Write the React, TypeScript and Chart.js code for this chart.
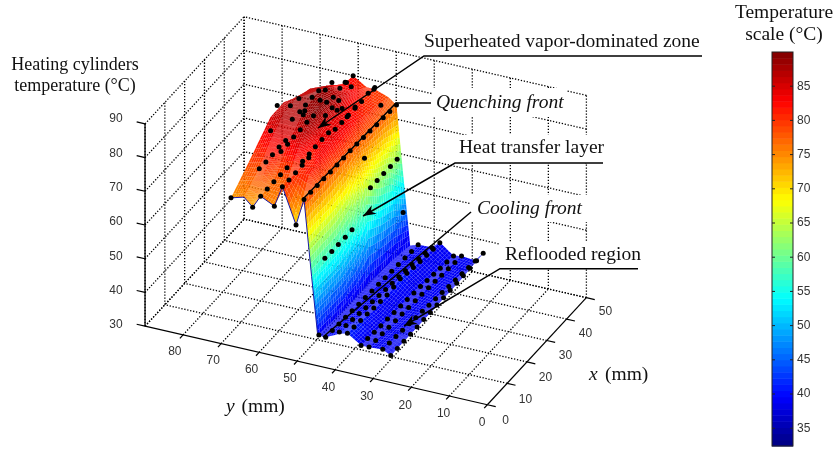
import React, { useEffect, useRef } from "react";
import { Chart, registerables } from "chart.js";
Chart.register(...registerables);

// ---- axis ticks ----
const xTicks = [0, 10, 20, 30, 40, 50];
const yTicks = [0, 10, 20, 30, 40, 50, 60, 70, 80];
const tempTicks = [30, 40, 50, 60, 70, 80, 90];
const colourTicks = [35, 40, 45, 50, 55, 60, 65, 70, 75, 80, 85];
const Y_MAX = 90;
const X_MAX = 50;
const T_MIN = 30;
const T_MAX = 90;
const BAR_MIN = 32.4;
const BAR_MAX = 90;

// ---- surface table: y rows (mm), x columns (mm), temperature (°C) ----
const surfaceX = [0, 6.67, 13.33, 20, 26.67, 33.33, 40, 46.67];
const surfaceY = [67.4, 64, 61.7, 59.6, 56, 53.9, 50.3, 48.2, 46.2, 44.6, 42.5, 38.9, 36.8, 33.2, 31.1, 27.5, 25.4];
const surfaceT = [
  [73.9, 77.5, 81.3, 85.2, 85.3, 82.3, 79.5, 77],
  [75, 78, 83, 87, 87.5, 86, 82, 78.5],
  [72.6, 80, 83, 87, 88, 87, 83.5, 79],
  [76.4, 77, 83, 87, 89, 88, 83, 82.5],
  [74.4, 78, 85, 89.5, 89, 86, 83, 80],
  [80.7, 80.6, 81, 84, 85, 83, 81, 80],
  [70.3, 81, 83, 84, 83, 81, 80, 78.5],
  [78.4, 78.3, 78.1, 78, 77.9, 77.5, 77.2, 76.8],
  [56, 56, 56, 58, 68, 63, 60, 54],
  [39, 38.5, 38, 38, 38, 37.5, 37, 36],
  [39, 38.6, 38.3, 38, 37.7, 37.4, 37, 36.8],
  [41, 40, 39, 39, 38.5, 38, 37.5, 37],
  [41.7, 41, 40, 40, 41, 40, 39.5, 39],
  [39, 38.5, 38, 38, 38, 37, 36.5, 36],
  [39, 38.5, 38, 38, 38, 37.5, 37, 36.4],
  [39.3, 38.8, 38.5, 38, 37.5, 37, 36.5, 36],
  [38, 38, 38, 38, 38, 38, 38.3, 38.7],
];

// ---- measured points: x stations, then one temperature list per y row ----
const stationX = [0, 3.33, 6.67, 10, 13.33, 16.67, 20, 23.33, 26.67, 30, 33.33, 36.67, 40, 43.33, 46.67];
const rowY = [67.4, 61.7, 59.6, 56, 53.9, 50.3, 48.2, 42.5, 38.9, 36.8, 33.2, 31.1, 27.5, 25.4];
const n = null;
const rowT = [
  [73.9, n, n, n, n, n, 81.1, 86.5, n, 82.2, n, n, n, n, n],
  [72.6, 81.9, 81.8, 81.8, 82, 81.8, 86, 90, 86, 86.2, 86, 84.1, 84.2, n, 80],
  [76.4, 76.4, 76.5, 76.4, 76.4, 83.4, 83.4, 83.5, 83.3, 85.8, 83.1, 82.5, 83, 82.6, 82.5],
  [74.4, 88.5, 88.5, n, n, n, n, n, n, n, n, n, n, n, n],
  [80.7, 80.6, 80.6, 80.7, 80.8, 82, 82, 81.9, 80.8, 80.7, 80.7, 80.7, 80.6, 80.9, 80.5],
  [70.3, 87.1, 87.1, n, n, n, n, n, n, n, n, n, n, n, n],
  [78.4, 78.4, 78.3, 78.2, 78.1, 78, 78, 78, 77.9, 77.7, 77.5, 77.3, 77.2, 77, 76.8],
  [39, 38.9, 38.7, 38.6, 38.4, 38.2, 38.1, 37.9, 37.8, 37.6, 37.4, 37.3, 37.1, 36.9, 36.8],
  [41.5, 41.3, 41, 40.6, 40.2, 39.9, 39.6, 39.3, 39, 38.8, 38.5, 38.2, 37.8, 37.4, 36.9],
  [41.7, 41.4, 41.2, 41, 40.7, 40.5, 40.3, 40.6, 40.9, 40.4, 40, 39.7, 39.4, 39.1, 38.9],
  [39, 38.9, 38.7, 38.5, 38.4, 38.2, 38, 37.8, 37.6, 37.4, 37.1, 36.8, 36.5, 36.2, 35.9],
  [39.1, 38.9, 38.8, 38.6, 38.4, 38.3, 38.1, 38, 37.8, 37.6, 37.4, 37.1, 36.9, 36.6, 36.4],
  [39.3, 39.1, 38.9, 38.6, 38.4, 38.1, 37.9, 37.6, 37.4, 37.1, 36.8, 36.6, 36.3, 36.1, 35.9],
  [38, 38, 38, 38, 38, 38.1, 38.1, 38.2, 38.2, 38.3, 38.3, 38.4, 38.5, 38.6, 38.7],
];
// remaining readings as [x, y, T]
const hotPoints = [
  [32.5, 56, 85.1], [38.8, 56, 85.2], [25.8, 56, 84.9], [29.2, 56, 85], [31.7, 56, 82.7],
  [34.2, 56, 81.6], [36.7, 56, 77.6], [40.8, 56, 77.9], [46.2, 53.9, 80.3], [42.8, 50.3, 78.6],
  [30.7, 65.3, 80.5], [33.2, 65.3, 79.2], [21.5, 59.6, 86.9],
];
const wallPoints = [
  [6.3, 46, 57.5], [9.8, 46, 57.3], [13.1, 46, 57.3], [16.6, 46, 57.2], [20, 46, 57.3],
  [29.3, 46, 63.8], [32.7, 46, 63.8], [36, 46, 63.8], [39.4, 46, 63.7], [42.8, 46, 63.7],
  [45.8, 46, 46], [26.3, 46, 74.5], [0, 44.3, 39.2],
];

// ---- projection of the 3-D box onto the 2-D chart scales ----
const project = (x: number, y: number, t: number) => ({
  x: 488 + 2 * x - 3.84 * y,
  y: 408 - 2.18 * x - 0.889 * y - 3.433 * (t - 30),
});

const jet = (t: number, lo = BAR_MIN, hi = BAR_MAX) => {
  const level = Math.min(63, Math.max(0, Math.floor(((t - lo) / (hi - lo)) * 64)));
  const v = (level + 0.5) / 64;
  const c = (a: number) => Math.round(255 * Math.min(1, Math.max(0, a)));
  return `rgb(${c(Math.min(4 * v - 1.5, -4 * v + 4.5))},${c(Math.min(4 * v - 0.5, -4 * v + 3.5))},${c(Math.min(4 * v + 0.5, -4 * v + 2.5))})`;
};

const segment = (a: number[], b: number[]) => [project(a[0], a[1], a[2]), project(b[0], b[1], b[2])];

const gridSegments = () => {
  const s: any[] = [];
  for (const x of xTicks.slice(1)) s.push(segment([x, 0, T_MIN], [x, Y_MAX, T_MIN]));
  for (const y of [...yTicks.slice(1), Y_MAX]) s.push(segment([0, y, T_MIN], [X_MAX, y, T_MIN]));
  for (const y of [...yTicks, Y_MAX]) s.push(segment([X_MAX, y, T_MIN], [X_MAX, y, T_MAX]));
  for (const x of xTicks) s.push(segment([x, Y_MAX, T_MIN], [x, Y_MAX, T_MAX]));
  for (const t of tempTicks) {
    s.push(segment([0, Y_MAX, t], [X_MAX, Y_MAX, t]));
    s.push(segment([X_MAX, 0, t], [X_MAX, Y_MAX, t]));
  }
  return s;
};

const axisSegments = () => {
  const s: any[] = [
    segment([0, 0, T_MIN], [0, Y_MAX, T_MIN]),
    segment([0, 0, T_MIN], [X_MAX, 0, T_MIN]),
    segment([0, Y_MAX, T_MIN], [0, Y_MAX, T_MAX]),
  ];
  for (const y of yTicks) s.push(segment([0, y, T_MIN], [-1.6, y, T_MIN]));
  for (const x of xTicks) s.push(segment([x, 0, T_MIN], [x, -2.2, T_MIN]));
  for (const t of tempTicks) s.push(segment([0, Y_MAX, t], [0, Y_MAX + 2.2, t]));
  return s;
};

const allPoints = () => {
  const pts: any[] = [];
  rowT.forEach((temps, r) =>
    temps.forEach((t, k) => {
      if (t !== null) pts.push(project(stationX[k], rowY[r], t));
    })
  );
  for (const p of [...hotPoints, ...wallPoints]) pts.push(project(p[0], p[1], p[2]));
  return pts;
};

const edgeLine = () =>
  surfaceY.slice(0, 10).map((y, r) => project(surfaceX[0], y, surfaceT[r][0]));

const SERIF = '"Liberation Serif", serif';
const SANS = '"Liberation Sans", sans-serif';

const surfacePlugin = {
  id: "surface",
  beforeDatasetDraw(chart: any, args: any) {
    if (args.index !== 1) return;
    const { ctx, scales } = chart;
    const px = (p: { x: number; y: number }) => [scales.x.getPixelForValue(p.x), scales.y.getPixelForValue(p.y)];
    ctx.save();
    // text boxes hide the grid behind the captions
    ctx.fillStyle = "#fff";
    for (const [x, y, w, h] of [[420, 26, 285, 30], [432, 88, 135, 29], [456, 135, 149, 28], [470, 195, 118, 27], [500, 242, 138, 26]]) {
      ctx.fillRect(x, y, w, h);
    }
    const SUB = 6;
    for (let r = 0; r < surfaceY.length - 1; r++) {
      const subY = surfaceY[r] - surfaceY[r + 1] < 3 ? SUB * 2 : SUB;
      for (let c = surfaceX.length - 2; c >= 0; c--) {
        const t00 = surfaceT[r][c], t10 = surfaceT[r][c + 1], t01 = surfaceT[r + 1][c], t11 = surfaceT[r + 1][c + 1];
        const at = (u: number, v: number) => {
          const x = surfaceX[c] + (surfaceX[c + 1] - surfaceX[c]) * u;
          const y = surfaceY[r] + (surfaceY[r + 1] - surfaceY[r]) * v;
          const t = (t00 * (1 - u) + t10 * u) * (1 - v) + (t01 * (1 - u) + t11 * u) * v;
          return { x, y, t };
        };
        for (let j = 0; j < subY; j++) {
          for (let i = SUB - 1; i >= 0; i--) {
            const q = [at(i / SUB, j / subY), at((i + 1) / SUB, j / subY), at((i + 1) / SUB, (j + 1) / subY), at(i / SUB, (j + 1) / subY)];
            const mean = (q[0].t + q[1].t + q[2].t + q[3].t) / 4;
            ctx.fillStyle = jet(Math.max(mean, 39.2));
            ctx.beginPath();
            q.forEach((p, k) => {
              const [a, b] = px(project(p.x, p.y, p.t));
              if (k === 0) ctx.moveTo(a, b);
              else ctx.lineTo(a, b);
            });
            ctx.closePath();
            ctx.fill();
          }
        }
      }
    }
    ctx.restore();
  },
  afterDatasetsDraw(chart: any) {
    const { ctx } = chart;
    ctx.save();
    // leader lines
    ctx.strokeStyle = "#000";
    ctx.fillStyle = "#000";
    ctx.lineWidth = 1.5;
    const leaders = [
      [[702, 56], [424, 56], [318, 128]],
      [[431, 103], [396, 103], [303, 199]],
      [[603, 163], [455, 163], [363, 216]],
      [[471, 212], [323, 337]],
      [[638, 268.7], [500, 268.7], [404, 326]],
    ];
    for (const l of leaders) {
      ctx.beginPath();
      l.forEach((p, i) => (i ? ctx.lineTo(p[0], p[1]) : ctx.moveTo(p[0], p[1])));
      ctx.stroke();
    }
    for (const i of [0, 2, 4]) {
      const a = leaders[i][1], b = leaders[i][2];
      const ang = Math.atan2(b[1] - a[1], b[0] - a[0]);
      ctx.save();
      ctx.translate(b[0], b[1]);
      ctx.rotate(ang);
      ctx.beginPath();
      ctx.moveTo(0, 0);
      ctx.lineTo(-13, -5);
      ctx.lineTo(-9, 0);
      ctx.lineTo(-13, 5);
      ctx.closePath();
      ctx.fill();
      ctx.restore();
    }
    // axis numbers
    ctx.fillStyle = "#333";
    ctx.font = `12px ${SANS}`;
    ctx.textAlign = "center";
    ctx.textBaseline = "middle";
    tempTicks.forEach((t) => {
      const p = project(0, Y_MAX, t);
      ctx.fillText(String(t), 116, p.y - 3);
    });
    yTicks.forEach((y) => {
      const p = project(0, y, T_MIN);
      ctx.fillText(String(y), p.x - 6, p.y + 15);
    });
    xTicks.forEach((x) => {
      const p = project(x, 0, T_MIN);
      ctx.fillText(String(x), p.x + 17.5, p.y + 13);
    });
    // colour scale
    const bx = 772, bw = 21, bt = 52, bb = 446;
    const toY = (t: number) => bb - ((t - BAR_MIN) / (BAR_MAX - BAR_MIN)) * (bb - bt);
    for (let i = 0; i < 64; i++) {
      const t0 = BAR_MIN + ((BAR_MAX - BAR_MIN) * i) / 64;
      const t1 = BAR_MIN + ((BAR_MAX - BAR_MIN) * (i + 1)) / 64;
      ctx.fillStyle = jet((t0 + t1) / 2);
      ctx.fillRect(bx, toY(t1), bw, toY(t0) - toY(t1) + 0.5);
    }
    ctx.strokeStyle = "#222";
    ctx.lineWidth = 1;
    ctx.strokeRect(bx, bt, bw, bb - bt);
    ctx.fillStyle = "#333";
    ctx.textAlign = "left";
    colourTicks.forEach((t) => {
      const y = toY(t);
      ctx.beginPath();
      ctx.moveTo(bx, y);
      ctx.lineTo(bx + 3, y);
      ctx.moveTo(bx + bw, y);
      ctx.lineTo(bx + bw - 3, y);
      ctx.stroke();
      ctx.fillText(String(t), 797, y);
    });
    // captions
    ctx.fillStyle = "#111";
    ctx.textBaseline = "alphabetic";
    const text = (s: string, x: number, y: number, align = "left", italic = false, size = 19.5) => {
      ctx.font = `${italic ? "italic " : ""}${size}px ${SERIF}`;
      ctx.textAlign = align;
      ctx.fillText(s, x, y);
    };
    text("Superheated vapor-dominated zone", 424, 47);
    text("Quenching front", 436, 108, "left", true);
    text("Heat transfer layer", 459, 153);
    text("Cooling front", 477, 214, "left", true);
    text("Reflooded region", 505, 260);
    text("Heating cylinders", 75, 70, "center", false, 18);
    text("temperature (°C)", 75, 91, "center", false, 18);
    text("Temperature", 784, 18, "center");
    text("scale (°C)", 784, 40, "center");
    text("y", 226, 411.5, "left", true);
    text("(mm)", 241.5, 411.5);
    text("x", 589, 380, "left", true);
    text("(mm)", 605, 380);
    ctx.restore();
  },
};

export default function App() {
  const ref = useRef<HTMLCanvasElement>(null);
  useEffect(() => {
    document.body.style.margin = "0";
    const line = (data: any[], color: string, width: number, dash: number[], order: number) => ({
      type: "scatter" as const,
      data,
      showLine: true,
      pointRadius: 0,
      borderColor: color,
      borderWidth: width,
      borderDash: dash,
      order,
      clip: false,
    });
    const chart = new Chart(ref.current as HTMLCanvasElement, {
      type: "scatter",
      data: {
        datasets: [
          {
            type: "scatter",
            data: allPoints(),
            pointRadius: 2.5,
            pointBackgroundColor: "#000",
            pointBorderWidth: 0,
            order: 1,
          } as any,
          line(edgeLine(), "#1a1aa8", 1, [], 2),
          ...axisSegments().map((s) => line(s, "#000", 1.2, [], 3)),
          ...gridSegments().map((s) => line(s, "#000", 1.3, [1.3, 1.7], 4)),
        ],
      },
      options: {
        animation: false,
        responsive: false,
        layout: { padding: 0 },
        events: [],
        plugins: { legend: { display: false }, tooltip: { enabled: false }, title: { display: false } },
        scales: {
          x: { type: "linear", min: 0, max: 839, display: false },
          y: { type: "linear", min: 0, max: 450, reverse: true, display: false },
        },
      },
      plugins: [surfacePlugin],
    } as any);
    return () => chart.destroy();
  }, []);
  return <canvas ref={ref} width={839} height={450} style={{ display: "block", width: 839, height: 450 }} />;
}
